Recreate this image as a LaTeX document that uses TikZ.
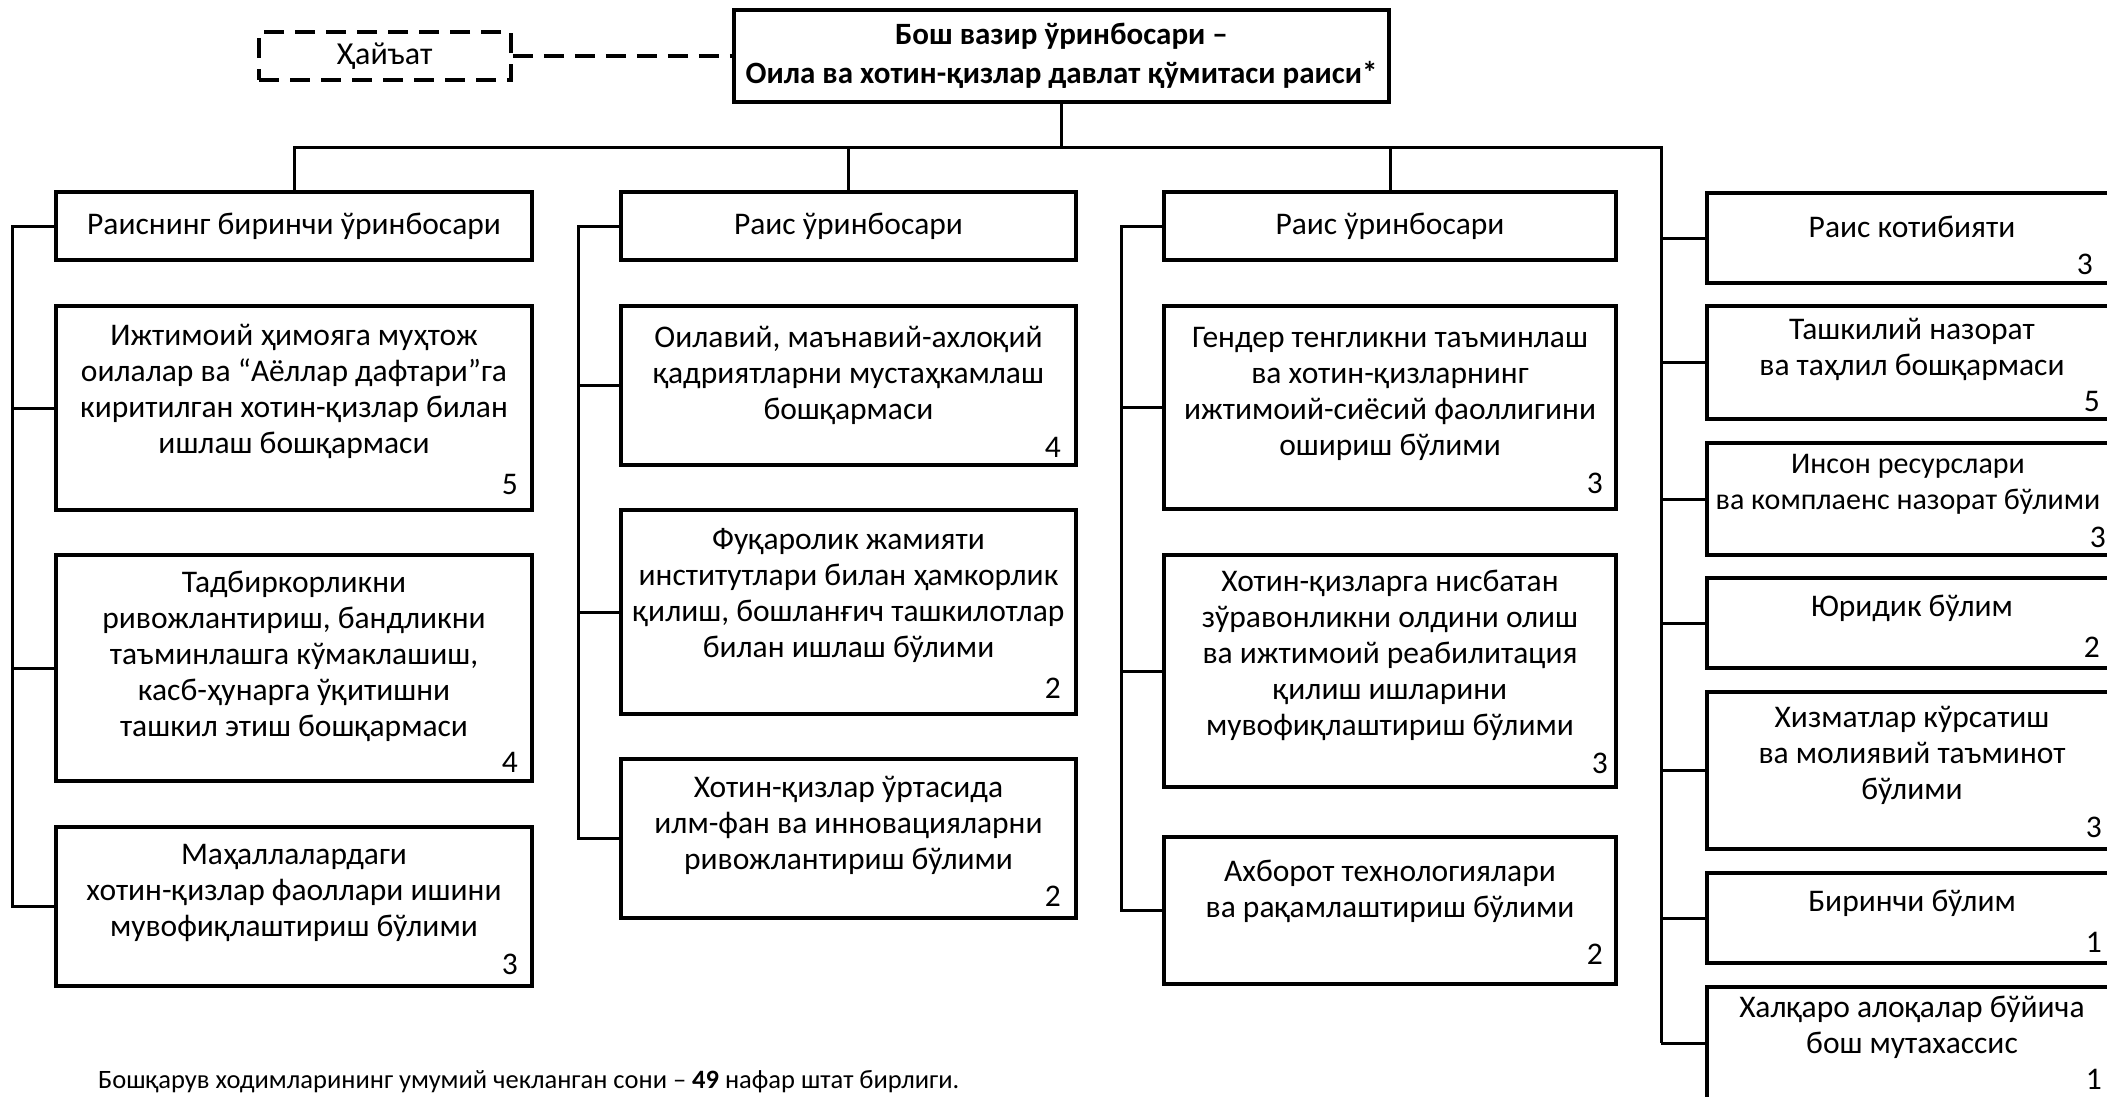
\documentclass[tikz,border=0pt]{standalone}
\usepackage{fontspec}
\setmainfont{Carlito}
\usetikzlibrary{calc}
\tikzset{
  box/.style={draw, line width=3.5pt, inner sep=0pt, fill=white},
  hdr/.style={box, minimum height=68pt, font=\fontsize{31.5}{36}\selectfont},
  txt/.style={align=center, inner sep=0pt, font=\fontsize{31.5}{36}\selectfont},
  num/.style={anchor=base east, inner sep=0pt, font=\fontsize{31.5}{36}\selectfont},
  link/.style={line width=3pt},
  dashlink/.style={line width=3.5pt, dash pattern=on 20pt off 11pt},
}
\begin{document}
\begin{tikzpicture}[x=1pt,y=-1pt]
\clip (0,0) rectangle (2107,1096);
\fill[white] (0,0) rectangle (2107,1096);

% top
\node[box, minimum width=655pt, minimum height=92pt, align=center,
      font=\fontsize{31}{39}\selectfont\bfseries] (top) at (1061.5,56)
  {Бош вазир ўринбосари –\\Оила ва хотин-қизлар давлат қўмитаси раиси*};
\node[box, dashlink, minimum width=252pt, minimum height=48pt,
      font=\fontsize{32}{36}\selectfont] (hay) at (385,56) {Ҳайъат};
\draw[dashlink] (hay.east) -- (top.west);

% headers
\node[hdr, minimum width=476pt] (h1) at (294,226) {Раиснинг биринчи ўринбосари};
\node[hdr, minimum width=455pt] (h2) at (848.5,226) {Раис ўринбосари};
\node[hdr, minimum width=452pt] (h3) at (1390,226) {Раис ўринбосари};

% column 1 boxes
\node[box, minimum width=476pt, minimum height=204pt] (b11) at (294,408) {};
\node[txt] (t11) at (294,391) {Ижтимоий ҳимояга муҳтож\\оилалар ва “Аёллар дафтари”га\\киритилган хотин-қизлар билан\\ишлаш бошқармаси};
\node[num] (n11) at (518,494) {5};
\node[box, minimum width=476pt, minimum height=226pt] (b12) at (294,668) {};
\node[txt] (t12) at (294,656) {Тадбиркорликни\\ривожлантириш, бандликни\\таъминлашга кўмаклашиш,\\касб-ҳунарга ўқитишни\\ташкил этиш бошқармаси};
\node[num] (n12) at (518,772) {4};
\node[box, minimum width=476pt, minimum height=159pt] (b13) at (294,906.5) {};
\node[txt] (t13) at (294,893) {Маҳаллалардаги\\хотин-қизлар фаоллари ишини\\мувофиқлаштириш бўлими};
\node[num] (n13) at (518,974) {3};

% column 2 boxes
\node[box, minimum width=455pt, minimum height=159pt] (b21) at (848.5,385.5) {};
\node[txt] (t21) at (848.5,375) {Оилавий, маънавий-ахлоқий\\қадриятларни мустаҳкамлаш\\бошқармаси};
\node[num] (n21) at (1061,457) {4};
\node[box, minimum width=455pt, minimum height=204pt] (b22) at (848.5,612) {};
\node[txt] (t22) at (848.5,595) {Фуқаролик жамияти\\институтлари билан ҳамкорлик\\қилиш, бошланғич ташкилотлар\\билан ишлаш бўлими};
\node[num] (n22) at (1061,698) {2};
\node[box, minimum width=455pt, minimum height=159pt] (b23) at (848.5,838.5) {};
\node[txt] (t23) at (848.5,825) {Хотин-қизлар ўртасида\\илм-фан ва инновацияларни\\ривожлантириш бўлими};
\node[num] (n23) at (1061,906) {2};

% column 3 boxes
\node[box, minimum width=452pt, minimum height=203pt] (b31) at (1390,407.5) {};
\node[txt] (t31) at (1390,394) {Гендер тенгликни таъминлаш\\ва хотин-қизларнинг\\ижтимоий-сиёсий фаоллигини\\ошириш бўлими};
\node[num] (n31) at (1603,493) {3};
\node[box, minimum width=452pt, minimum height=232pt] (b32) at (1390,671) {};
\node[txt] (t32) at (1390,655) {Хотин-қизларга нисбатан\\зўравонликни олдини олиш\\ва ижтимоий реабилитация\\қилиш ишларини\\мувофиқлаштириш бўлими};
\node[num] (n32) at (1608,773) {3};
\node[box, minimum width=452pt, minimum height=147pt] (b33) at (1390,910.5) {};
\node[txt] (t33) at (1390,891) {Ахборот технологиялари\\ва рақамлаштириш бўлими};
\node[num] (n33) at (1603,964) {2};

% right column
\node[box, minimum width=410pt, minimum height=90pt] (r1) at (1912,238) {};
\node[txt] (s1) at (1912,227) {Раис котибияти};
\node[num] (m1) at (2093,274) {3};
\node[box, minimum width=410pt, minimum height=113pt] (r2) at (1912,362.5) {};
\node[txt] (s2) at (1912,349) {Ташкилий назорат\\ва таҳлил бошқармаси};
\node[num] (m2) at (2100,411) {5};
\node[box, minimum width=410pt, minimum height=112pt] (r3) at (1912,499) {};
\node[txt, font=\fontsize{30}{36}\selectfont] (s3) at (1908,484.5) {Инсон ресурслари\\ва комплаенс назорат бўлими};
\node[num] (m3) at (2106,547) {3};
\node[box, minimum width=410pt, minimum height=90pt] (r4) at (1912,623) {};
\node[txt] (s4) at (1912,608) {Юридик бўлим};
\node[num] (m4) at (2100,657) {2};
\node[box, minimum width=410pt, minimum height=157pt] (r5) at (1912,770.5) {};
\node[txt] (s5) at (1912,755) {Хизматлар кўрсатиш\\ва молиявий таъминот\\бўлими};
\node[num] (m5) at (2102,837) {3};
\node[box, minimum width=410pt, minimum height=90pt] (r6) at (1912,918) {};
\node[txt] (s6) at (1912,903) {Биринчи бўлим};
\node[num] (m6) at (2102,952) {1};
\node[box, minimum width=410pt, minimum height=112pt] (r7) at (1912,1043) {};
\node[txt] (s7) at (1912,1027) {Халқаро алоқалар бўйича\\бош мутахассис};
\node[num] (m7) at (2102,1089) {1};

% footer
\node[anchor=west, inner sep=0pt, font=\fontsize{26.5}{30}\selectfont] (foot) at (98,1082)
  {Бошқарув ходимларининг умумий чекланган сони – \textbf{49} нафар штат бирлиги.};

% connectors
\coordinate (busR) at (1661,147);
\draw[link] (top.south) -- (top.south |- busR);
\draw[link] (h1.north) -- (h1.north |- busR) -- (busR) -- (busR |- r7.west);
\draw[link] (h2.north) -- (h2.north |- busR);
\draw[link] (h3.north) -- (h3.north |- busR);
\foreach \r in {r1,r2,r3,r4,r5,r6,r7} \draw[link] (busR |- \r.west) -- (\r.west);

\coordinate (sp1) at (12,226);
\draw[link] (h1.west) -- (sp1) -- (sp1 |- b13.west) -- (b13.west);
\foreach \b in {b11,b12} \draw[link] (sp1 |- \b.west) -- (\b.west);
\coordinate (sp2) at (578,226);
\draw[link] (h2.west) -- (sp2) -- (sp2 |- b23.west) -- (b23.west);
\foreach \b in {b21,b22} \draw[link] (sp2 |- \b.west) -- (\b.west);
\coordinate (sp3) at (1121,226);
\draw[link] (h3.west) -- (sp3) -- (sp3 |- b33.west) -- (b33.west);
\foreach \b in {b31,b32} \draw[link] (sp3 |- \b.west) -- (\b.west);
\end{tikzpicture}
\end{document}
